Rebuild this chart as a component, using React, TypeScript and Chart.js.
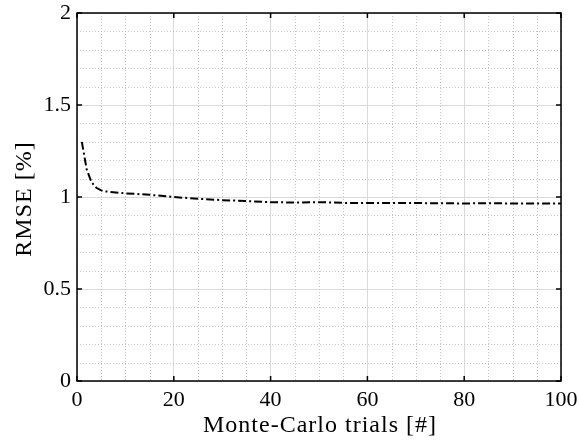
import React, { useEffect, useRef } from "react";
import { Chart, registerables } from "chart.js";

Chart.register(...registerables);

const trials = [1, 2, 3, 4, 5, 6, 8, 10, 15, 20, 25, 30, 35, 40, 45, 50, 55, 60, 65, 70, 75, 80, 85, 90, 95, 100];
const rmse = [1.3, 1.15, 1.08, 1.05, 1.036, 1.03, 1.025, 1.02, 1.012, 1.0, 0.99, 0.983, 0.978, 0.972, 0.97, 0.972, 0.968, 0.968, 0.967, 0.967, 0.966, 0.965, 0.966, 0.965, 0.965, 0.965];
const xTicks = [0, 20, 40, 60, 80, 100];
const yTicks = [0, 0.5, 1, 1.5, 2];
const xMinorStep = 5;
const yMinorStep = 0.1;
const xTitle = "Monte-Carlo trials [#]";
const yTitle = "RMSE [%]";

const FONT = "'Liberation Serif', 'DejaVu Serif', serif";

const framePlugin = {
  id: "frame",
  beforeDatasetsDraw(chart: any) {
    const { ctx, chartArea: a, scales } = chart;
    const xs = scales.x;
    const ys = scales.y;
    ctx.save();
    ctx.strokeStyle = "#c4c4c4";
    ctx.lineWidth = 1;
    ctx.setLineDash([1, 2]);
    for (let v = xs.min; v <= xs.max + 1e-9; v += xMinorStep) {
      if (xTicks.some((t) => Math.abs(t - v) < 1e-6)) continue;
      const p = Math.round(xs.getPixelForValue(v)) + 0.5;
      ctx.beginPath();
      ctx.moveTo(p, a.top);
      ctx.lineTo(p, a.bottom);
      ctx.stroke();
    }
    for (let i = 0; i <= Math.round((ys.max - ys.min) / yMinorStep); i++) {
      const v = ys.min + i * yMinorStep;
      if (yTicks.some((t) => Math.abs(t - v) < 1e-6)) continue;
      const p = Math.round(ys.getPixelForValue(v)) + 0.5;
      ctx.beginPath();
      ctx.moveTo(a.left, p);
      ctx.lineTo(a.right, p);
      ctx.stroke();
    }
    ctx.restore();
  },
  afterDraw(chart: any) {
    const { ctx, chartArea: a, scales } = chart;
    ctx.save();
    ctx.strokeStyle = "#000";
    ctx.lineWidth = 1.5;
    ctx.setLineDash([]);
    ctx.strokeRect(a.left, a.top, a.right - a.left, a.bottom - a.top);
    const L = 5;
    ctx.beginPath();
    xTicks.forEach((t) => {
      const p = scales.x.getPixelForValue(t);
      ctx.moveTo(p, a.bottom);
      ctx.lineTo(p, a.bottom - L);
      ctx.moveTo(p, a.top);
      ctx.lineTo(p, a.top + L);
    });
    yTicks.forEach((t) => {
      const p = scales.y.getPixelForValue(t);
      ctx.moveTo(a.left, p);
      ctx.lineTo(a.left + L, p);
      ctx.moveTo(a.right, p);
      ctx.lineTo(a.right - L, p);
    });
    ctx.stroke();

    // axis titles
    ctx.fillStyle = "#000";
    ctx.font = "24px " + FONT;
    (ctx as any).letterSpacing = "1px";
    ctx.textAlign = "center";
    ctx.textBaseline = "alphabetic";
    const cx = (a.left + a.right) / 2;
    ctx.fillText(xTitle, cx + 1, a.bottom + 51);
    ctx.save();
    ctx.translate(a.left - 46, (a.top + a.bottom) / 2 + 2);
    ctx.rotate(-Math.PI / 2);
    ctx.fillText(yTitle, 0, 0);
    ctx.restore();
    ctx.restore();
  },
};

export default function App() {
  const ref = useRef<HTMLCanvasElement>(null);
  useEffect(() => {
    document.body.style.margin = "0";
    const chart = new Chart(ref.current as HTMLCanvasElement, {
      type: "scatter",
      data: {
        datasets: [
          {
            data: trials.map((x, i) => ({ x, y: rmse[i] })),
            showLine: true,
            borderColor: "#000",
            borderWidth: 2,
            borderDash: [8, 3, 2, 3],
            pointRadius: 0,
            tension: 0,
            fill: false,
          },
        ],
      },
      options: {
        animation: false,
        responsive: false,
        devicePixelRatio: 1,
        layout: { padding: { top: 13, right: 18, left: 0, bottom: 0 } },
        plugins: { legend: { display: false }, tooltip: { enabled: false } },
        scales: {
          x: {
            type: "linear",
            min: 0,
            max: 100,
            afterBuildTicks: (s: any) => {
              s.ticks = xTicks.map((v) => ({ value: v }));
            },
            afterFit: (s: any) => {
              s.height = 66;
              s.paddingLeft = 0;
              s.paddingRight = 0;
            },
            ticks: {
              color: "#000",
              font: { family: FONT, size: 22 },
              padding: 6,
              maxRotation: 0,
              callback: (v: any) => String(v),
            },
            grid: { color: "#dadada", lineWidth: 1, drawTicks: false },
            border: { display: false },
          },
          y: {
            type: "linear",
            min: 0,
            max: 2,
            afterBuildTicks: (s: any) => {
              s.ticks = yTicks.map((v) => ({ value: v }));
            },
            afterFit: (s: any) => {
              s.width = 77;
              s.paddingTop = 0;
              s.paddingBottom = 0;
            },
            ticks: {
              color: "#000",
              font: { family: FONT, size: 22 },
              padding: 6,
              callback: (v: any) => String(v),
            },
            grid: { color: "#dadada", lineWidth: 1, drawTicks: false },
            border: { display: false },
          },
        },
      },
      plugins: [framePlugin],
    } as any);
    return () => chart.destroy();
  }, []);
  return <canvas ref={ref} width={579} height={447} style={{ display: "block" }} />;
}
